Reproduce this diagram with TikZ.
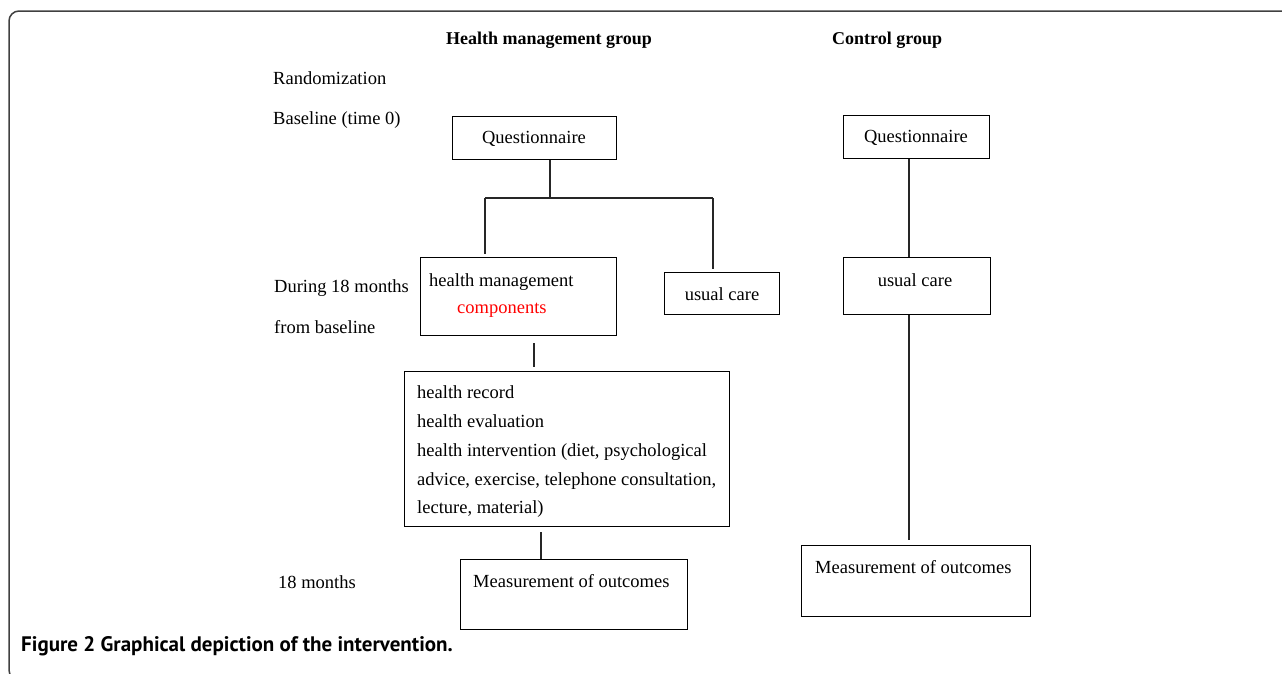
\documentclass[tikz,border=0pt]{standalone}
\usepackage{fontspec}
\setmainfont{Liberation Serif}
\newfontfamily\capfont{PT Sans}
\begin{document}
\begin{tikzpicture}[x=1pt,y=-1pt,
  box/.style={draw=black, line width=1.1pt, inner sep=0pt, anchor=north west},
  conn/.style={draw=black!85, line width=1.1pt},
  txt/.style={inner sep=0pt, anchor=base west, font=\fontsize{18.5}{29}\selectfont},
  ctxt/.style={txt, anchor=base},
  head/.style={inner sep=0pt, anchor=base west, font=\fontsize{18}{22}\selectfont\bfseries},
]
\useasboundingbox (0,0) rectangle (1282,673);
% frame
\draw[line width=1.5pt, draw=black!75, rounded corners=10pt] (1300,11) -- (9,11) -- (9,680) -- (40,680);
% headings and row labels
\node[head] (hhm) at (446,44) {Health management group};
\node[head] (hcg) at (832,44) {Control group};
\node[txt] (rand) at (273,84) {Randomization};
\node[txt] (base) at (273,124) {Baseline (time 0)};
\node[txt] (dur1) at (274,292) {During 18 months};
\node[txt] (dur2) at (274,333) {from baseline};
\node[txt] (m18) at (278,588) {18 months};
% boxes
\node[box, minimum width=164, minimum height=43] (qh) at (452,116) {};
\node[box, minimum width=146, minimum height=43] (qc) at (843,115) {};
\node[box, minimum width=196, minimum height=78] (hm) at (420,257) {};
\node[box, minimum width=115, minimum height=42] (uch) at (664,272) {};
\node[box, minimum width=147, minimum height=57] (ucc) at (843,257) {};
\node[box, minimum width=325, minimum height=155] (det) at (404,371) {};
\node[box, minimum width=227, minimum height=70] (mh) at (460,559) {};
\node[box, minimum width=229, minimum height=71] (mc) at (801,545) {};
% box texts
\node[ctxt] (tqh) at (534,143) {Questionnaire};
\node[ctxt] (tqc) at (916,142) {Questionnaire};
\node[txt] (thm1) at (429,286) {health management};
\node[txt, text=red] (thm2) at (457,313) {components};
\node[ctxt] (tuch) at (722,300) {usual care};
\node[ctxt] (tucc) at (915,286) {usual care};
\node[txt] (d1) at (417,398) {health record};
\node[txt] (d2) at (417,427) {health evaluation};
\node[txt] (d3) at (417,456) {health intervention (diet, psychological};
\node[txt] (d4) at (417,485) {advice, exercise, telephone consultation,};
\node[txt] (d5) at (417,513) {lecture, material)};
\node[txt] (tmh) at (473,587) {Measurement of outcomes};
\node[txt] (tmc) at (815,573) {Measurement of outcomes};
% connectors
\coordinate (j) at (550,198);
\coordinate (jl) at (485,198);
\coordinate (jr) at (713,198);
\coordinate (c2) at (534,0);
\coordinate (c3) at (541,0);
\coordinate (c4) at (909,0);
\draw[conn] (qh.south -| j) -- (j);
\draw[conn] (jl) -- (jr);
\draw[conn] (jl) -- ([yshift=3pt]hm.north -| jl);
\draw[conn] (jr) -- ([yshift=3pt]uch.north -| jr);
\draw[conn] ([yshift=-7pt]hm.south -| c2) -- ([yshift=4pt]det.north -| c2);
\draw[conn] ([yshift=-5pt]det.south -| c3) -- (mh.north -| c3);
\draw[conn] (qc.south -| c4) -- (ucc.north -| c4);
\draw[conn] (ucc.south -| c4) -- ([yshift=5pt]mc.north -| c4);
% caption
\node[inner sep=0pt, anchor=base west, font=\capfont\bfseries\fontsize{21}{24}\selectfont] (cap) at (21,651) {Figure 2 Graphical depiction of the intervention.};
\end{tikzpicture}
\end{document}
